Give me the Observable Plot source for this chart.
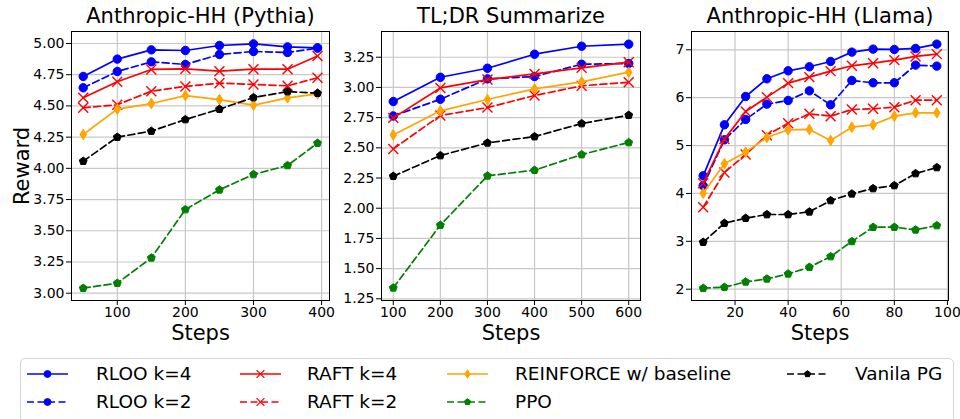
<!DOCTYPE html>
<html><head><meta charset="utf-8">
<script src="https://cdn.jsdelivr.net/npm/d3@7"></script>
<script src="https://cdn.jsdelivr.net/npm/@observablehq/plot@0.6"></script>
<style>
body{margin:0;background:#fff;font-family:"DejaVu Sans",sans-serif;}
#chart{position:relative;width:960px;height:419px;overflow:hidden;background:#fff;}
.panel{position:absolute;top:0;}
#legend{position:absolute;left:20px;top:358px;width:934px;height:80px;border:1px solid #d4d4d4;border-radius:5px;box-sizing:border-box;background:#fff;}
#legend svg{position:absolute;left:0;top:0;}
</style></head><body><div id="chart"></div>
<script>
// ---------- data ----------
const seriesNames = ["RLOO k=4","RLOO k=2","RAFT k=4","RAFT k=2","REINFORCE w/ baseline","PPO","Vanila PG"];

const pythiaSteps = [50,100,150,200,250,300,350,394];
const pythiaRloo4 = [4.736,4.875,4.949,4.944,4.984,4.997,4.973,4.965];
const pythiaRloo2 = [4.645,4.776,4.853,4.832,4.912,4.936,4.928,4.963];
const pythiaRaft4 = [4.565,4.693,4.792,4.797,4.778,4.794,4.794,4.899];
const pythiaRaft2 = [4.485,4.509,4.618,4.656,4.682,4.672,4.661,4.725];
const pythiaReinforce = [4.271,4.474,4.519,4.583,4.551,4.506,4.565,4.597];
const pythiaPpo = [3.040,3.080,3.283,3.670,3.828,3.951,4.023,4.202];
const pythiaVanilla = [4.057,4.250,4.298,4.391,4.474,4.567,4.615,4.602];

const tldrSteps = [100,200,300,400,500,600];
const tldrRloo4 = [2.883,3.084,3.159,3.275,3.341,3.358];
const tldrRloo2 = [2.764,2.902,3.071,3.090,3.192,3.198];
const tldrRaft4 = [2.748,2.996,3.065,3.112,3.162,3.209];
const tldrRaft2 = [2.491,2.767,2.833,2.933,3.013,3.043];
const tldrReinforce = [2.607,2.806,2.900,2.988,3.046,3.126];
const tldrPpo = [1.341,1.860,2.268,2.315,2.444,2.544];
const tldrVanilla = [2.265,2.436,2.541,2.593,2.701,2.770];

const llamaSteps = [8,16,24,32,40,48,56,64,72,80,88,96];
const llamaRloo4 = [4.368,5.433,6.025,6.394,6.561,6.645,6.756,6.951,7.014,7.007,7.028,7.118];
const llamaRloo2 = [4.159,5.120,5.545,5.865,5.942,6.143,5.851,6.359,6.311,6.311,6.680,6.659];
const llamaRaft4 = [4.214,5.134,5.712,6.011,6.304,6.429,6.554,6.666,6.721,6.784,6.861,6.909];
const llamaRaft2 = [3.713,4.437,4.813,5.217,5.467,5.663,5.614,5.753,5.767,5.802,5.948,5.948];
const llamaReinforce = [4.006,4.619,4.862,5.169,5.329,5.336,5.106,5.384,5.433,5.614,5.684,5.684];
const llamaPpo = [2.021,2.042,2.153,2.216,2.320,2.460,2.682,2.997,3.295,3.295,3.240,3.330];
const llamaVanilla = [2.982,3.379,3.483,3.560,3.560,3.616,3.852,3.992,4.103,4.166,4.416,4.542];

const pythiaXTicks = [100,200,300,400];
const pythiaYTicks = [3.00,3.25,3.50,3.75,4.00,4.25,4.50,4.75,5.00];
const tldrXTicks = [100,200,300,400,500,600];
const tldrYTicks = [1.25,1.50,1.75,2.00,2.25,2.50,2.75,3.00,3.25];
const llamaXTicks = [20,40,60,80,100];
const llamaYTicks = [2,3,4,5,6,7];

// ---------- styles ----------
const pentagon = {draw(ctx, size){const r=Math.sqrt(size/Math.PI);for(let i=0;i<5;i++){const a=-Math.PI/2+i*2*Math.PI/5;const x=r*Math.cos(a),y=r*Math.sin(a);i?ctx.lineTo(x,y):ctx.moveTo(x,y);}ctx.closePath();}};
const thinDiamond = {draw(ctx, size){const r=Math.sqrt(size/Math.PI);ctx.moveTo(0,-r);ctx.lineTo(0.62*r,0);ctx.lineTo(0,r);ctx.lineTo(-0.62*r,0);ctx.closePath();}};
const DASH = "7,3.5";
const styles = [
  {color:"blue", dash:null, sym:"circle", r:4.2, lr:3.4, open:false},
  {color:"blue", dash:DASH, sym:"circle", r:4.2, lr:3.4, open:false},
  {color:"red", dash:null, sym:"times", r:4.6, lr:3.6, open:true},
  {color:"red", dash:DASH, sym:"times", r:4.6, lr:3.6, open:true},
  {color:"orange", dash:null, sym:thinDiamond, r:5.3, lr:4.2, open:false},
  {color:"green", dash:DASH, sym:pentagon, r:4.1, lr:3.3, open:false},
  {color:"black", dash:DASH, sym:pentagon, r:4.1, lr:3.3, open:false}
];

function panel(o){
  const marks = [
    Plot.gridX(o.xTicks,{stroke:"#c8c8c8",strokeOpacity:1,strokeWidth:1.2}),
    Plot.gridY(o.yTicks,{stroke:"#c8c8c8",strokeOpacity:1,strokeWidth:1.2})
  ];
  o.values.forEach((vals,i)=>{
    const s = styles[i];
    const data = o.steps.map((x,j)=>({x, y: vals[j]}));
    marks.push(Plot.line(data,{x:"x",y:"y",stroke:s.color,strokeWidth:1.7,strokeDasharray:s.dash}));
    marks.push(Plot.dot(data,{x:"x",y:"y",symbol:s.sym,r:s.r,
      fill:s.open?"none":s.color,stroke:s.color,strokeWidth:s.open?1.4:1}));
  });
  marks.push(Plot.frame({stroke:"black",strokeWidth:1}));
  marks.push(Plot.axisX(o.xTicks,{tickSize:5,tickPadding:2,fontSize:14,label:null}));
  marks.push(Plot.axisY(o.yTicks,{tickSize:5,tickPadding:2,fontSize:14,label:null,tickFormat:o.yFormat}));
  marks.push(Plot.text([o.title],{frameAnchor:"top",lineAnchor:"middle",dy:-15,fontSize:21}));
  marks.push(Plot.text(["Steps"],{frameAnchor:"bottom",lineAnchor:"middle",dy:33,fontSize:21}));
  if(o.yLabel) marks.push(Plot.text([o.yLabel],{frameAnchor:"left",textAnchor:"middle",lineAnchor:"middle",dx:-49,rotate:-90,fontSize:21}));
  const svg = Plot.plot({
    width:o.width, height:355,
    marginLeft:o.marginLeft, marginRight:o.marginRight, marginTop:31, marginBottom:55,
    x:{domain:o.xDomain}, y:{domain:o.yDomain},
    style:{fontFamily:"DejaVu Sans",fontSize:"14px",color:"black",background:"white",overflow:"visible"},
    marks
  });
  const div = document.createElement("div");
  div.className="panel"; div.style.left=o.left+"px"; div.style.width=o.width+"px";
  div.appendChild(svg);
  document.getElementById("chart").appendChild(div);
}

panel({title:"Anthropic-HH (Pythia)", steps:pythiaSteps,
  values:[pythiaRloo4,pythiaRloo2,pythiaRaft4,pythiaRaft2,pythiaReinforce,pythiaPpo,pythiaVanilla],
  xDomain:[32.8,411.6], yDomain:[2.9415,5.096], xTicks:pythiaXTicks, yTicks:pythiaYTicks, yFormat:".2f",
  left:0, width:335, marginLeft:71, marginRight:6, yLabel:"Reward"});
panel({title:"TL;DR Summarize", steps:tldrSteps,
  values:[tldrRloo4,tldrRloo2,tldrRaft4,tldrRaft2,tldrReinforce,tldrPpo,tldrVanilla],
  xDomain:[75,625], yDomain:[1.236,3.463], xTicks:tldrXTicks, yTicks:tldrYTicks, yFormat:".2f",
  left:335, width:310, marginLeft:46, marginRight:5});
panel({title:"Anthropic-HH (Llama)", steps:llamaSteps,
  values:[llamaRloo4,llamaRloo2,llamaRaft4,llamaRaft2,llamaReinforce,llamaPpo,llamaVanilla],
  xDomain:[3.6,100.4], yDomain:[1.764,7.382], xTicks:llamaXTicks, yTicks:llamaYTicks, yFormat:"d",
  left:645, width:313, marginLeft:46, marginRight:10});

// ---------- legend ----------
const leg = document.createElement("div"); leg.id="legend";
document.getElementById("chart").appendChild(leg);
const lsvg = d3.select(leg).append("svg").attr("width",934).attr("height",70);
const slots = [[0,0],[0,1],[1,0],[1,1],[2,0],[2,1],[3,0]];
const handleX = [6,219,426,766], textX = [75,286,494,834], rowY = [15,43];
const symMap = {circle:d3.symbolCircle, times:d3.symbolTimes};
seriesNames.forEach((name,i)=>{
  const s = styles[i]; const [c,r] = slots[i];
  const g = lsvg.append("g").attr("transform",`translate(${handleX[c]},${rowY[r]})`);
  g.append("line").attr("x1",0).attr("x2",41).attr("stroke",s.color).attr("stroke-width",1.7)
    .attr("stroke-dasharray",s.dash);
  const sym = typeof s.sym==="string"?symMap[s.sym]:s.sym;
  g.append("path").attr("transform","translate(20.5,0)")
    .attr("d",d3.symbol(sym,Math.PI*s.lr*s.lr)())
    .attr("fill",s.open?"none":s.color).attr("stroke",s.color).attr("stroke-width",s.open?1.3:1);
  lsvg.append("text").attr("x",textX[c]).attr("y",rowY[r]).attr("dy","0.35em")
    .attr("font-family","DejaVu Sans").attr("font-size",18.5).attr("fill","black").text(name);
});
</script></body></html>
